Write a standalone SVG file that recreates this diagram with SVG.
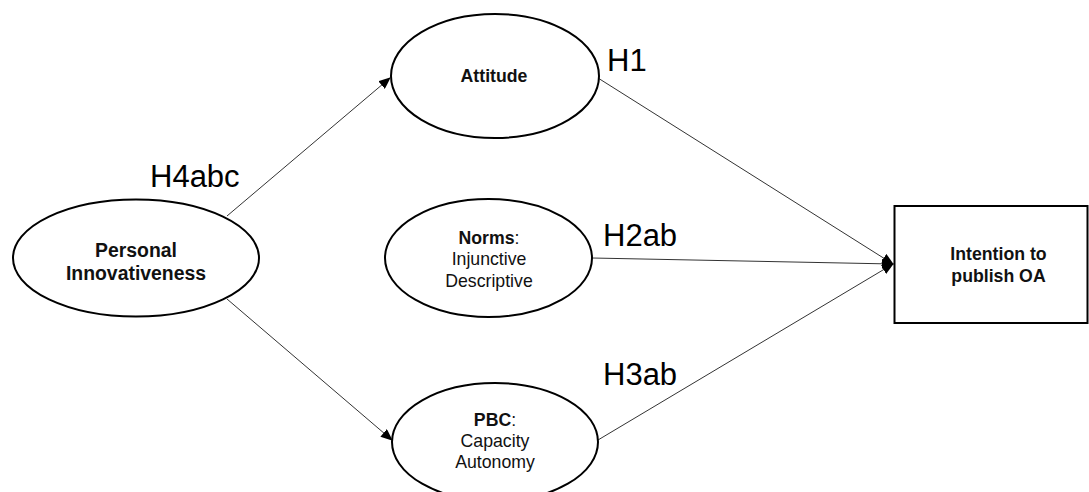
<svg xmlns="http://www.w3.org/2000/svg" width="1089" height="492" viewBox="0 0 1089 492">
<style>
.node{fill:#fff;stroke:#000;stroke-width:2}
.conn{stroke:#333;stroke-width:1;fill:none}
.t{font-family:"Liberation Sans",Arial,sans-serif;font-size:17.7px;fill:#111;text-anchor:middle}
.b{font-weight:bold}
.big{font-size:19.4px}
.h{font-family:"Liberation Sans",Arial,sans-serif;font-size:31px;fill:#000}
</style>
<defs>
<marker id="arr" markerUnits="userSpaceOnUse" markerWidth="12" markerHeight="10" viewBox="0 0 12 10" refX="11" refY="5" orient="auto">
<path d="M0,0 L12,5 L0,10 Z" fill="#000"/>
</marker>
</defs>
<rect width="1089" height="492" fill="#fff"/>
<g id="connectors">
<line class="conn" x1="227" y1="216" x2="390" y2="78" marker-end="url(#arr)"/>
<line class="conn" x1="227" y1="299" x2="392" y2="440" marker-end="url(#arr)"/>
<line class="conn" x1="598" y1="78" x2="893" y2="264" marker-end="url(#arr)"/>
<line class="conn" x1="592" y1="258" x2="893" y2="264" marker-end="url(#arr)"/>
<line class="conn" x1="598" y1="440" x2="893" y2="264" marker-end="url(#arr)"/>
</g>
<g id="personal-innovativeness">
<ellipse class="node" cx="136" cy="258" rx="123" ry="58.5"/>
<text class="t b big" x="136" y="256.5">Personal</text>
<text class="t b big" x="136" y="280">Innovativeness</text>
</g>
<g id="attitude">
<ellipse class="node" cx="495" cy="76" rx="104" ry="62"/>
<text class="t b" x="494" y="82">Attitude</text>
</g>
<g id="norms">
<ellipse class="node" cx="488.5" cy="258" rx="103.5" ry="59"/>
<text class="t" x="489" y="244"><tspan class="b">Norms</tspan>:</text>
<text class="t" x="489" y="265">Injunctive</text>
<text class="t" x="489" y="287">Descriptive</text>
</g>
<g id="pbc">
<ellipse class="node" cx="495" cy="442" rx="103" ry="59"/>
<text class="t" x="495" y="426"><tspan class="b">PBC</tspan>:</text>
<text class="t" x="495" y="447">Capacity</text>
<text class="t" x="495" y="468">Autonomy</text>
</g>
<g id="intention">
<rect class="node" x="894.5" y="206" width="193" height="117"/>
<text class="t b" x="998.5" y="260">Intention to</text>
<text class="t b" x="998.5" y="282">publish OA</text>
</g>
<g id="labels">
<text class="h" x="150" y="187">H4abc</text>
<text class="h" x="607" y="71">H1</text>
<text class="h" x="603" y="246">H2ab</text>
<text class="h" x="603" y="385">H3ab</text>
</g>
</svg>
